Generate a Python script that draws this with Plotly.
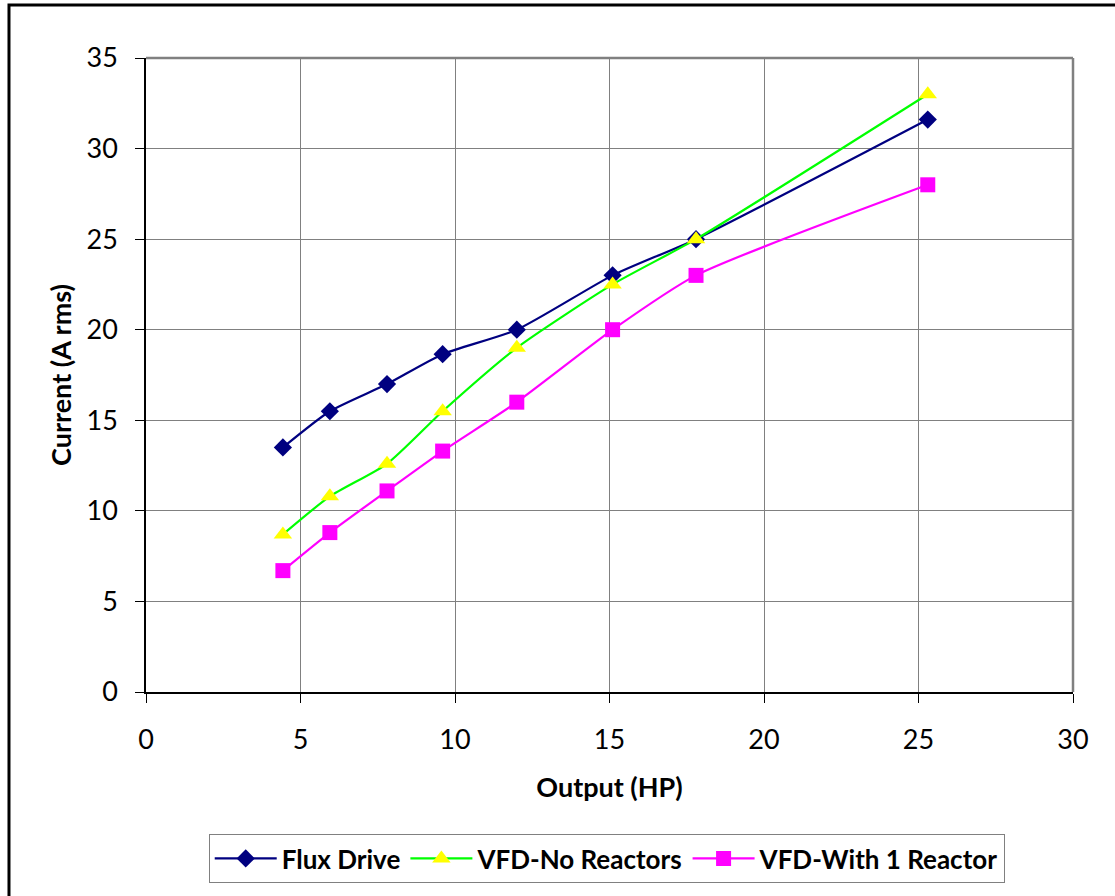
import plotly.graph_objects as go

hp = [4.43, 5.95, 7.8, 9.6, 12.0, 15.1, 17.8, 25.3]
flux_drive = [13.5, 15.5, 17.0, 18.65, 20.0, 23.0, 25.0, 31.6]
vfd_no_reactors = [8.7, 10.8, 12.6, 15.5, 19.0, 22.5, 25.0, 33.0]
vfd_with_reactor = [6.7, 8.8, 11.1, 13.3, 16.0, 20.0, 23.0, 28.0]
series_names = ["Flux Drive", "VFD-No Reactors", "VFD-With 1 Reactor"]

fig = go.Figure()
fig.add_trace(go.Scatter(x=hp, y=flux_drive, name="<b>" + series_names[0] + "</b>", mode="lines+markers",
                         line=dict(color="#000080", width=2.2, shape="spline", smoothing=0.6),
                         marker=dict(symbol="diamond", size=14, color="#000080")))
fig.add_trace(go.Scatter(x=hp, y=vfd_no_reactors, name="<b>" + series_names[1] + "</b>", mode="lines+markers",
                         line=dict(color="#00FF00", width=2.2, shape="spline", smoothing=0.6),
                         marker=dict(symbol="triangle-up", size=16, color="#FFFF00")))
fig.add_trace(go.Scatter(x=hp, y=vfd_with_reactor, name="<b>" + series_names[2] + "</b>", mode="lines+markers",
                         line=dict(color="#FF00FF", width=2.2, shape="spline", smoothing=0.6),
                         marker=dict(symbol="square", size=15, color="#FF00FF")))

font = "Lato, 'Open Sans', sans-serif"
fig.update_layout(
    width=1115, height=896,
    margin=dict(l=146, r=42, t=58, b=204),
    paper_bgcolor="white", plot_bgcolor="white",
    font=dict(family=font, size=28, color="black"),
    xaxis=dict(range=[0, 30], dtick=5, showgrid=True, gridcolor="#808080", gridwidth=1,
               showline=True, linecolor="black", linewidth=1.5, mirror=False,
               ticks="outside", ticklen=9, tickcolor="black", zeroline=False,
               ticklabelstandoff=14,
               title=dict(text="<b>Output (HP)</b>", font=dict(size=27), standoff=24),
               tickfont=dict(size=27)),
    yaxis=dict(range=[0, 35], dtick=5, showgrid=True, gridcolor="#808080", gridwidth=1,
               showline=True, linecolor="black", linewidth=1.5,
               ticks="outside", ticklen=9, tickcolor="black", zeroline=False,
               ticklabelstandoff=12,
               title=dict(text="<b>Current (A rms)</b>", font=dict(size=27), standoff=7),
               tickfont=dict(size=27)),
    legend=dict(orientation="h", x=0.497, xanchor="center", y=-0.224, yanchor="top",
                bordercolor="#808080", borderwidth=1, bgcolor="white",
                font=dict(size=26), itemwidth=62, tracegroupgap=0),
    showlegend=True,
)
# plot-area top/right border in gray
fig.add_shape(type="line", xref="paper", yref="paper", x0=0, x1=1, y0=1, y1=1,
              line=dict(color="#808080", width=2.5))
fig.add_shape(type="line", xref="paper", yref="paper", x0=1, x1=1, y0=0, y1=1,
              line=dict(color="#808080", width=2.5))
# outer chart border
fig.add_shape(type="rect", xref="paper", yref="paper", x0=-0.1478, x1=1.06, y0=-0.34, y1=1.0836,
              line=dict(color="black", width=3), fillcolor="rgba(0,0,0,0)", layer="below")

fig.write_html("out.html")
